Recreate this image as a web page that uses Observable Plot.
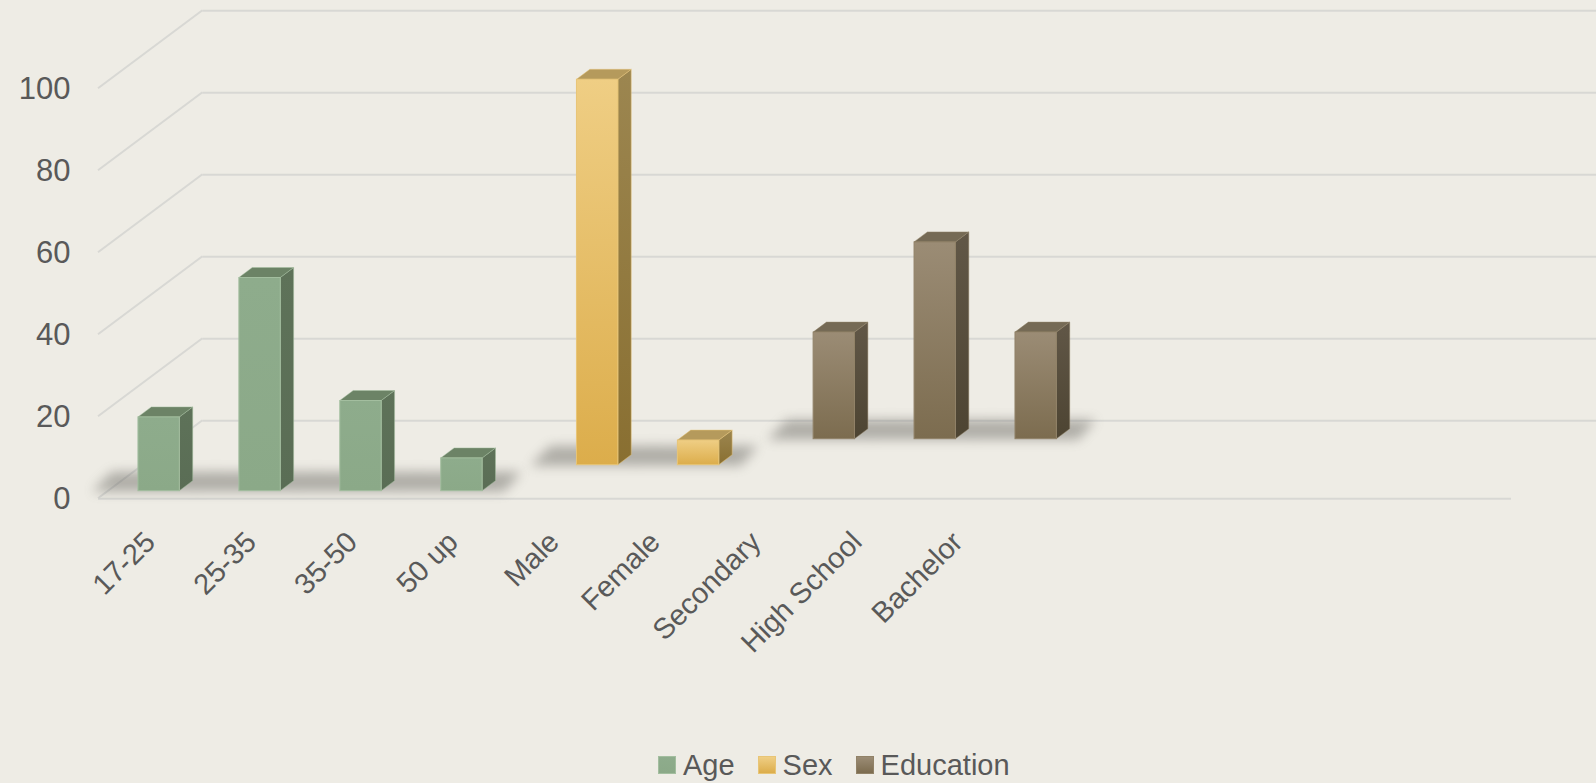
<!DOCTYPE html>
<html>
<head>
<meta charset="utf-8">
<script src="https://cdn.jsdelivr.net/npm/d3@7"></script>
<script src="https://cdn.jsdelivr.net/npm/@observablehq/plot@0.6"></script>
<style>
  html, body { margin: 0; padding: 0; background: #EEECE5; }
  #wrap { position: relative; width: 1596px; height: 783px; overflow: hidden; background: #EEECE5;
          font-family: "Liberation Sans", Arial, sans-serif; }
  #legend { position: absolute; left: 658px; top: 750px; display: flex; align-items: center;
            font-size: 29px; color: #595959; line-height: 30px; }
  .item { display: flex; align-items: center; margin-right: 23px; }
  .sw { width: 18px; height: 18px; margin-right: 7px; box-sizing: border-box; }
</style>
</head>
<body>
<div id="wrap"></div>
<script>
// ---- data ----
const categories = ["17-25", "25-35", "35-50", "50 up", "Male", "Female", "Secondary", "High School", "Bachelor"];
const emptySlots = ["~1", "~2", "~3", "~4", "~5"];
const series = ["Age", "Sex", "Education"];
const ageValues = [18, 52, 22, 8];
const sexValues = [94, 6];
const educationValues = [26, 48, 26];
const yTicks = [0, 20, 40, 60, 80, 100];

const table = [
  ...ageValues.map((v, i) => ({series: "Age", category: categories[i], value: v})),
  ...sexValues.map((v, i) => ({series: "Sex", category: categories[4 + i], value: v})),
  ...educationValues.map((v, i) => ({series: "Education", category: categories[6 + i], value: v}))
];
const xDomain = [...categories, ...emptySlots];

// ---- styling ----
const DEPTH_X = 104.4, DEPTH_Y = -78;          // oblique depth of the floor
const ROW_OFFSET = 0.0975, ROW_DEPTH = 0.128;  // bar position within its depth row
const BAR_WIDTH = 0.41;
const GRID = "#D8D8D4";
const TEXT = "#595959";
const palette = {
  Age:       {frontTop: "#8EAC8C", front: "#8BA988", sideTop: "#5E7259", side: "#5A6D55", top: "#6C8366", edge: "#A3BE9F"},
  Sex:       {frontTop: "#EFCE84", front: "#DCAD4B", sideTop: "#9C8650", side: "#896F31", top: "#B59A5C", edge: "#E8C576"},
  Education: {frontTop: "#9B8C75", front: "#7C6C4F", sideTop: "#615747", side: "#4D4432", top: "#756A55", edge: "#918268"}
};

function walls(index, scales, values, dim) {
  const y = scales.y;
  const x0 = dim.marginLeft;
  const g = d3.create("svg:g").attr("stroke", GRID).attr("stroke-width", 2).attr("fill", "none");
  for (const t of yTicks) {
    g.append("line").attr("x1", x0).attr("y1", y(t)).attr("x2", x0 + DEPTH_X).attr("y2", y(t) + DEPTH_Y);
  }
  return g.node();
}

function bars3d(index, scales, values, dim) {
  const {x, y} = scales;
  const bwRaw = typeof x.bandwidth === "function" ? x.bandwidth() : x.bandwidth;
  const bw = bwRaw > 0 ? bwRaw : (dim.width - dim.marginLeft - dim.marginRight) / xDomain.length;
  const g = d3.create("svg:g");
  const defs = g.append("defs");
  defs.append("filter").attr("id", "shadowBlur")
    .attr("x", "-50%").attr("y", "-100%").attr("width", "200%").attr("height", "300%")
    .append("feGaussianBlur").attr("stdDeviation", 6);
  for (const s of series) {
    const st = palette[s];
    const f = defs.append("linearGradient").attr("id", "front-" + s).attr("x1", 0).attr("y1", 0).attr("x2", 0).attr("y2", 1);
    f.append("stop").attr("offset", 0).attr("stop-color", st.frontTop);
    f.append("stop").attr("offset", 1).attr("stop-color", st.front);
    const sd = defs.append("linearGradient").attr("id", "side-" + s).attr("x1", 0).attr("y1", 0).attr("x2", 0).attr("y2", 1);
    sd.append("stop").attr("offset", 0).attr("stop-color", st.sideTop);
    sd.append("stop").attr("offset", 1).attr("stop-color", st.side);
  }
  const w = bw * BAR_WIDTH;
  const ddx = DEPTH_X * ROW_DEPTH, ddy = DEPTH_Y * ROW_DEPTH;
  for (let k = series.length - 1; k >= 0; k--) {
    const s = series[k], st = palette[s];
    const rows = table.filter(d => d.series === s);
    const z0 = k / series.length + ROW_OFFSET;
    const ox = DEPTH_X * z0, oy = DEPTH_Y * z0;
    const sh = g.append("g").attr("filter", "url(#shadowBlur)").attr("opacity", 0.42);
    for (const d of rows) {
      const xl = x(d.category) + (bw - w) / 2 + ox, xr = xl + w, yb = y(0) + oy;
      sh.append("polygon")
        .attr("points", [[xl - 46, yb + 1], [xl - 26, yb - 19], [xr + ddx + 26, yb - 19], [xr + 22, yb + 1]].join(" "))
        .attr("fill", "#5a5852");
    }
    for (const d of rows) {
      const xl = x(d.category) + (bw - w) / 2 + ox, xr = xl + w;
      const yb = y(0) + oy, yt = y(d.value) + oy;
      // side face
      g.append("polygon")
        .attr("points", [[xr, yb], [xr + ddx, yb + ddy], [xr + ddx, yt + ddy], [xr, yt]].join(" "))
        .attr("fill", `url(#side-${s})`).attr("stroke", st.edge).attr("stroke-width", 0.8).attr("stroke-opacity", 0.6);
      // top face
      g.append("polygon")
        .attr("points", [[xl, yt], [xl + ddx, yt + ddy], [xr + ddx, yt + ddy], [xr, yt]].join(" "))
        .attr("fill", st.top).attr("stroke", st.edge).attr("stroke-width", 0.8).attr("stroke-opacity", 0.6);
      // front face
      g.append("rect")
        .attr("x", xl).attr("y", yt).attr("width", w).attr("height", yb - yt)
        .attr("fill", `url(#front-${s})`).attr("stroke", st.edge).attr("stroke-width", 1);
    }
  }
  return g.node();
}

const chart = Plot.plot({
  width: 1596,
  height: 745,
  marginLeft: 98,
  marginRight: 85,
  marginTop: 88.3,
  marginBottom: 246.7,
  style: {background: "transparent", fontFamily: "'Liberation Sans', Arial, sans-serif", overflow: "visible"},
  x: {type: "band", domain: xDomain, padding: 0, round: false, axis: null},
  y: {domain: [0, 100], axis: null},
  marks: [
    Plot.ruleY(yTicks, {dx: DEPTH_X, dy: DEPTH_Y, stroke: GRID, strokeWidth: 2}),
    walls,
    Plot.ruleY([0], {stroke: GRID, strokeWidth: 2}),
    bars3d,
    Plot.text(yTicks, {y: d => d, text: d => String(d), frameAnchor: "left", textAnchor: "end",
      dx: -28, fontSize: 31, fill: TEXT}),
    Plot.text(categories, {x: d => d, y: () => 0, text: d => d, rotate: -45, textAnchor: "end",
      lineAnchor: "bottom", dx: 8, dy: 45, fontSize: 29, fill: TEXT})
  ]
});
document.getElementById("wrap").appendChild(chart);

// legend below the plot
const legend = d3.select("#wrap").append("div").attr("id", "legend");
for (const s of series) {
  const st = palette[s];
  const item = legend.append("div").attr("class", "item");
  item.append("div").attr("class", "sw")
    .style("background", `linear-gradient(${st.frontTop}, ${st.front})`)
    .style("border", `1px solid ${st.edge}`);
  item.append("span").text(s);
}
</script>
</body>
</html>
